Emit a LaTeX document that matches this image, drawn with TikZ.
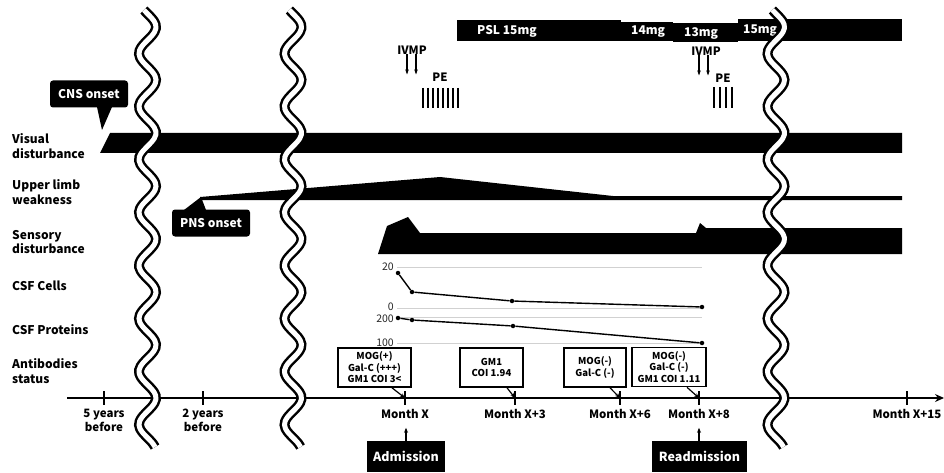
\documentclass[tikz,border=0pt]{standalone}
\usepackage{fontspec}
\setmainfont{Noto Sans CJK JP}
\usepackage{tikz}
\usetikzlibrary{arrows.meta,positioning,calc}

% white gap drawn over the time line where time is skipped
\newcommand{\timebreak}[1]{%
  \draw[line width=10pt,black] plot[smooth,domain=10:447,samples=120]
    ({#1+8.5*cos(6.7925*(\x-27))},\x);
  \draw[line width=5pt,white] plot[smooth,domain=10:447,samples=120]
    ({#1+8.5*cos(6.7925*(\x-27))},\x);
}

\begin{document}
\begin{tikzpicture}[x=1pt,y=-1pt,
  rowlbl/.style={font=\bfseries\fontsize{12}{14.5}\selectfont,align=left,anchor=west,inner sep=0pt},
  ticklbl/.style={font=\bfseries\fontsize{11.5}{13.5}\selectfont,align=center,anchor=north,inner sep=0pt},
  onset/.style={fill=black,text=white,rounded corners=3pt,font=\bfseries\fontsize{12}{14}\selectfont,
                minimum height=27pt,minimum width=78pt},
  hosp/.style={fill=black,text=white,font=\bfseries\fontsize{12.5}{14}\selectfont,minimum height=31pt},
  dose/.style={text=white,font=\bfseries\fontsize{12}{14}\selectfont,inner sep=0pt},
  treat/.style={font=\bfseries\fontsize{11.5}{13}\selectfont,inner sep=0pt},
  ab/.style={draw,line width=1.6pt,fill=white,align=center,font=\bfseries\fontsize{9.5}{11.5}\selectfont,
             minimum height=39pt,inner sep=1pt},
  axnum/.style={font=\fontsize{10.5}{11}\selectfont,text=black!85,anchor=east,inner sep=0pt,
                text height=7.5pt,text depth=0pt},
  gridln/.style={draw=black!18,line width=0.7pt},
  csf/.style={line width=1.4pt},
  pt/.style={circle,fill,inner sep=0pt,minimum size=4.5pt},
  arr/.style={-{Stealth[length=5pt,width=4pt]},line width=1.2pt},
  drug/.style={-{Stealth[length=5pt,width=3.5pt]},line width=1.1pt},
  pe/.style={line width=2.6pt}
]
\useasboundingbox (0,0) rectangle (944,473);

% row labels
\node[rowlbl] (lvis) at (12,146) {Visual\\disturbance};
\node[rowlbl] (lupp) at (12,192) {Upper limb\\weakness};
\node[rowlbl] (lsen) at (12,242) {Sensory\\disturbance};
\node[rowlbl] (lcel) at (12,286) {CSF Cells};
\node[rowlbl] (lpro) at (12,330) {CSF Proteins};
\node[rowlbl] (lant) at (12,371) {Antibodies\\status};

% symptom bars
\fill (100,153) -- (110,133) -- (902,133) -- (902,153) -- cycle;
\fill (200,200) -- (200,197) -- (440,177) -- (613,196) -- (902,196) -- (902,200) -- cycle;
\fill (378,254) -- (387,226) -- (408,217) -- (420,233) -- (696,233) -- (700,223)
      -- (706,228) -- (902,228) -- (902,254) -- cycle;

% onset callouts
\node[onset] (cns) at (89,94) {CNS onset};
\fill (97,107) -- (102,130) -- (112,107) -- cycle;
\node[onset] (pns) at (211,223) {PNS onset};
\fill (184,210) -- (201,197) -- (206,210) -- cycle;

% prednisolone
\fill (457,20) rectangle (621,41);
\fill (621,22) rectangle (673,41);
\fill (673,23) rectangle (738,42);
\fill (738,19) rectangle (902,41);
\node[dose,anchor=west] (psl) at (477,31) {PSL 15mg};
\node[dose,anchor=west] (d14) at (631,32) {14mg};
\node[dose,anchor=west] (d13) at (684,33) {13mg};
\node[dose,anchor=west] (d15) at (743,31) {15mg};

% IVMP and plasma exchange
\node[treat] (iv1) at (412,50) {IVMP};
\draw[drug] ([xshift=-5pt]iv1.south) -- ++(0,20);
\draw[drug] ([xshift=4pt]iv1.south) -- ++(0,20);
\node[treat] (pe1) at (440,77) {PE};
\foreach \i in {0,...,7} \draw[pe] (423+5*\i,88) -- (423+5*\i,108);
\node[treat] (iv2) at (706,51) {IVMP};
\draw[drug] ([xshift=-7pt]iv2.south) -- ++(0,20);
\draw[drug] ([xshift=2pt]iv2.south) -- ++(0,20);
\node[treat] (pe2) at (723,78) {PE};
\foreach \i in {0,...,3} \draw[pe] (714+6*\i,87) -- (714+6*\i,108);

% CSF charts
\foreach \yy/\ty/\v in {267/267/20,308/306.5/0,317/318.5/200,343/343/100}{
  \draw[gridln] (397,\yy) -- (702,\yy);
  \node[axnum] at (394,\ty) {\v};
}
\foreach \n/\p in {c1/{398,273},c2/{412,292},c3/{512,301},c4/{702,307},
                   p1/{398,318},p2/{412,320},p3/{513,326},p4/{702,343}}
  \node[pt] (\n) at (\p) {};
\draw[csf] (c1) -- (c2) -- (c3) -- (c4);
\draw[csf] (p1) -- (p2) -- (p3) -- (p4);

% time axis
\draw[-{Stealth[length=9pt,width=8pt]},line width=1.2pt] (67,398) -- (944,398);
\foreach \n/\xx/\t in {y5/104/{5 years\\before},y2/203/{2 years\\before},mX/405/{Month X},
                       m3/515/{Month X+3},m6/620/{Month X+6},m8/699/{Month X+8},m15/907/{Month X+15}}{
  \coordinate (\n) at (\xx,398);
  \draw[line width=1.5pt] (\xx,391) -- (\xx,405);
  \node[ticklbl] at (\xx,409) {\t};
}

% antibodies
\node[ab,minimum width=73pt] (ab1) at (374.5,367.5) {MOG(+)\\Gal-C (+++)\\GM1 COI 3<};
\node[ab,minimum width=63pt] (ab2) at (491.5,367.5) {GM1\\COI 1.94};
\node[ab,minimum width=62pt] (ab3) at (595,367.5) {MOG(-)\\Gal-C (-)};
\node[ab,minimum width=74pt] (ab4) at (669,367) {MOG(-)\\Gal-C (-)\\GM1 COI 1.11};
\draw[arr] ([xshift=17.5pt]ab1.south) -- (mX);
\draw[arr] ([xshift=15.5pt]ab2.south) -- (m3);
\draw[arr] ([xshift=15pt]ab3.south) -- (m6);
\draw[arr] ([xshift=18pt]ab4.south) -- (m8);

% admissions
\node[hosp,minimum width=78pt] (adm) at (406,456.5) {Admission};
\draw[arr] (adm.north) -- ++(0,-13);
\node[hosp,minimum width=95pt] (readm) at (699.5,456.5) {Readmission};
\draw[arr] ([xshift=-0.5pt]readm.north) -- ++(0,-13);

% skipped time
\timebreak{147.5}
\timebreak{293}
\timebreak{776}
\end{tikzpicture}
\end{document}
